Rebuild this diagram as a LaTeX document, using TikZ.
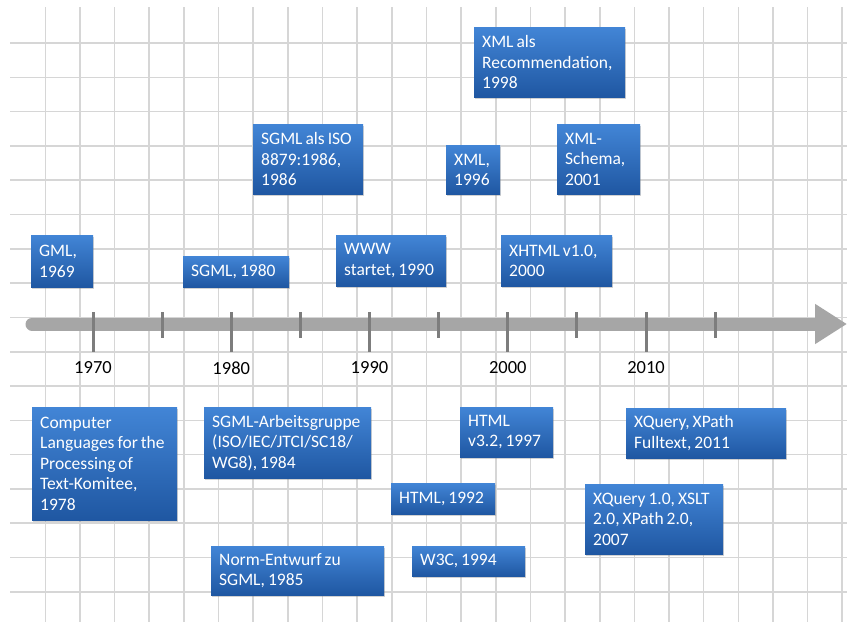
\documentclass[tikz,border=0pt]{standalone}
\usepackage{fontspec}
\setmainfont{Carlito}
\usepackage{tikz}
\usetikzlibrary{arrows.meta, shadows, positioning}
\definecolor{evtop}{RGB}{66,133,214}
\definecolor{evbottom}{RGB}{31,87,162}
\definecolor{gridgray}{RGB}{214,214,214}
\definecolor{axisgray}{RGB}{166,166,166}
\definecolor{tickgray}{RGB}{125,125,125}
\tikzset{
    evbox/.style={rectangle, anchor=north west, top color=evtop, bottom color=evbottom, text=white, align=left, inner xsep=8pt, inner ysep=0pt, font=\fontsize{17.5}{20.5}\selectfont, execute at begin node={\spaceskip=0.17em\relax}, drop shadow={shadow xshift=1.2pt, shadow yshift=-1.5pt, opacity=0.35}},
    yearlabel/.style={font=\fontsize{18.5}{22}\selectfont, text=black},
    gridline/.style={draw=gridgray, line width=1.6pt},
    axisline/.style={draw=axisgray, line width=13pt, line cap=round, -{Triangle[length=32pt, width=38pt]}},
    majortick/.style={draw=tickgray, line width=3pt},
    minortick/.style={draw=tickgray, line width=3pt}
}

\begin{document}
\begin{tikzpicture}[x=1pt, y=-1pt]
    \useasboundingbox[fill=white] (0,0) rectangle (847,622);

    % grid
    \foreach \i in {0,...,23}
        \draw[gridline] ({45.3+34.65*\i},7) -- ({45.3+34.65*\i},622);
    \foreach \j in {0,...,16}
        \draw[gridline] (10,{43+34.3*\j}) -- (847,{43+34.3*\j});

    % time axis
    \coordinate (axstart) at (32,324);
    \coordinate (axend) at (847,324);
    \draw[axisline] (axstart) -- (axend);

    \foreach \yr in {1970,1980,...,2010} {
        \pgfmathsetmacro{\tx}{93+(\yr-1970)*13.825}
        \draw[majortick] (\tx,312) -- (\tx,352);
        \node[yearlabel] (y\yr) at (\tx,368) {\yr};
    }
    \foreach \yr in {1975,1985,...,2015} {
        \pgfmathsetmacro{\tx}{93+(\yr-1970)*13.825}
        \draw[minortick] (\tx,312) -- (\tx,338);
    }

    % events above the axis
    \node[evbox, text width=46pt, minimum height=52pt] (gml) at (31,235) {GML,\\1969};
    \node[evbox, text width=90pt, minimum height=31pt] (sgml) at (183,256) {SGML, 1980};
    \node[evbox, text width=94pt, minimum height=70pt] (sgmliso) at (253,124) {SGML~als~ISO\\8879:1986,\\1986};
    \node[evbox, text width=94pt, minimum height=51pt] (www) at (336,235) {WWW\\startet, 1990};
    \node[evbox, text width=38pt, minimum height=49pt] (xml) at (446,145) {XML,\\1996};
    \node[evbox, text width=135pt, minimum height=70pt] (xmlrec) at (474,27) {XML~als\\Recommendation,\\1998};
    \node[evbox, text width=95pt, minimum height=51pt] (xhtml) at (501,235) {XHTML~v1.0,\\2000};
    \node[evbox, text width=67pt, minimum height=70pt] (schema) at (557,124) {XML-\\Schema,\\2001};

    % events below the axis
    \node[evbox, text width=129pt, minimum height=113pt] (clpt) at (32,407) {Computer\\Languages~for~the\\Processing~of\\Text-Komitee,\\1978};
    \node[evbox, text width=151pt, minimum height=71pt] (sgmlag) at (204,407) {SGML-Arbeitsgruppe\\(ISO/IEC/JTCI/SC18/\\WG8), 1984};
    \node[evbox, text width=157pt, minimum height=49pt] (norm) at (211,546) {Norm-Entwurf~zu\\SGML, 1985};
    \node[evbox, text width=88pt, minimum height=31pt] (html) at (391,483) {HTML, 1992};
    \node[evbox, text width=97pt, minimum height=30pt] (wthreec) at (412,546) {W3C, 1994};
    \node[evbox, text width=77pt, minimum height=50pt] (htmlthree) at (460,407) {HTML\\v3.2,~1997};
    \node[evbox, text width=122pt, minimum height=70pt] (xquery) at (585,484) {XQuery~1.0,~XSLT\\2.0,~XPath~2.0,\\2007};
    \node[evbox, text width=144pt, minimum height=50pt] (fulltext) at (626,408) {XQuery,~XPath\\Fulltext,~2011};
\end{tikzpicture}
\end{document}
